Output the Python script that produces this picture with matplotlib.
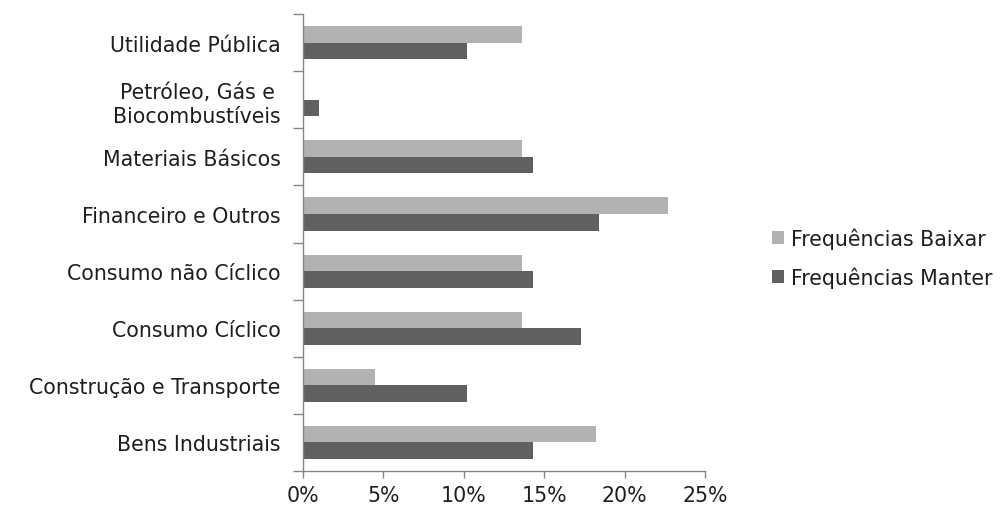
import matplotlib
matplotlib.use("Agg")
import matplotlib.pyplot as plt
import numpy as np
from matplotlib.ticker import FuncFormatter, FixedLocator

plt.rcParams['font.family'] = ['DejaVu Sans']

categories = ["Bens Industriais", "Construção e Transporte", "Consumo Cíclico",
              "Consumo não Cíclico", "Financeiro e Outros", "Materiais Básicos",
              "Petróleo, Gás e\nBiocombustíveis", "Utilidade Pública"]
baixar = [18.2, 4.5, 13.6, 13.6, 22.7, 13.6, 0.0, 13.6]
manter = [14.3, 10.2, 17.3, 14.3, 18.4, 14.3, 1.0, 10.2]
series_names = ["Frequências Baixar", "Frequências Manter"]
xticks = [0, 5, 10, 15, 20, 25]

FS = 14.8
fig = plt.figure(figsize=(10.05, 5.10), dpi=100)
ax = fig.add_axes([0.3015, 0.0745, 0.4, 0.896])

y = np.arange(len(categories))
h = 0.29
c_light = "#b2b2b2"
c_dark = "#606060"
ax.barh(y + h / 2, baixar, height=h, color=c_light, label=series_names[0])
ax.barh(y - h / 2, manter, height=h, color=c_dark, label=series_names[1])

ax.set_xlim(0, 25)
ax.set_ylim(-0.5, len(categories) - 0.5)
ax.set_xticks(xticks)
ax.xaxis.set_major_formatter(FuncFormatter(lambda v, p: f"{int(v)}%"))
ax.set_yticks(y)
ax.set_yticklabels(categories, fontsize=FS, multialignment='center', linespacing=1.25)
ax.yaxis.set_minor_locator(FixedLocator(np.arange(-0.5, len(categories), 1.0)))
ax.tick_params(axis='y', which='major', length=0, pad=16)
ax.tick_params(axis='y', which='minor', length=7, width=1, color="#868686", direction='out')
ax.tick_params(axis='x', which='major', length=5, width=1, color="#868686", labelsize=FS, pad=5)
for lab in ax.get_xticklabels() + ax.get_yticklabels():
    lab.set_color("#1e1e1e")

for s in ['top', 'right']:
    ax.spines[s].set_visible(False)
for s in ['left', 'bottom']:
    ax.spines[s].set_color("#868686")
    ax.spines[s].set_linewidth(1)

leg = fig.legend(loc='upper left', bbox_to_anchor=(0.760, 0.568), frameon=False,
                 fontsize=FS, handlelength=0.6, handleheight=0.6, handletextpad=0.3,
                 labelspacing=0.85, borderaxespad=0)
for t in leg.get_texts():
    t.set_color("#1e1e1e")

fig.savefig("out.png", dpi=100)
